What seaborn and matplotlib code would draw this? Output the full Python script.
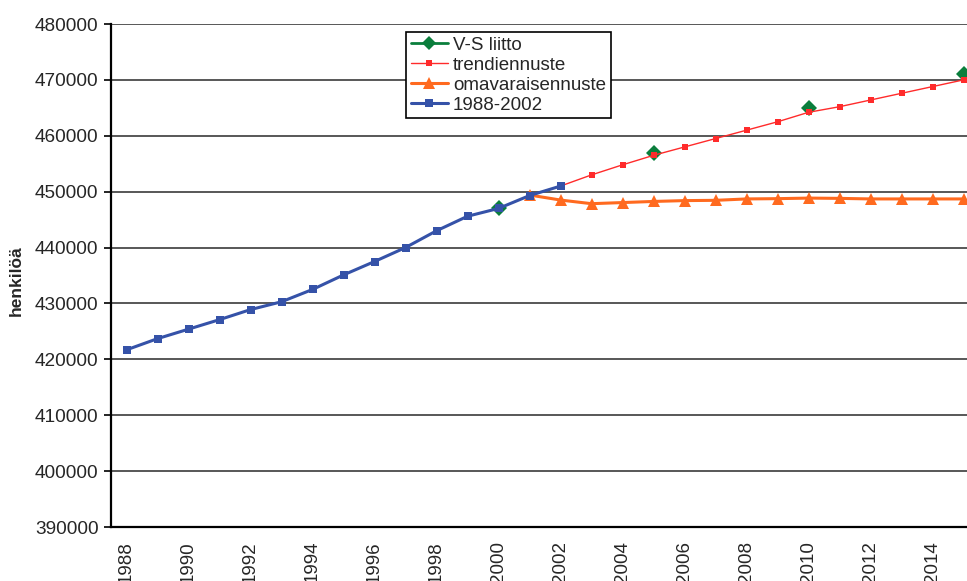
import numpy as np
import pandas as pd
import matplotlib
matplotlib.use("Agg")
import matplotlib.pyplot as plt
from matplotlib.lines import Line2D
import seaborn as sns

sns.set_style("white")
plt.rcParams['font.family'] = ['Liberation Sans', 'DejaVu Sans']

################################################
# Data
################################################
years_hist = list(range(1988, 2003))
hist_vals = [421700, 423700, 425400, 427100, 428900, 430300, 432500, 435100,
             437500, 440000, 443000, 445600, 447000, 449300, 451000]

years_trend = list(range(2001, 2016))
trend_vals = [449300, 451000, 453000, 454800, 456500, 458000, 459500, 461000,
              462500, 464200, 465200, 466400, 467600, 468800, 470000]

years_own = list(range(2001, 2016))
own_vals = [449400, 448500, 447850, 448050, 448250, 448400, 448450, 448700,
            448750, 448850, 448800, 448700, 448700, 448700, 448700]

years_vs = [2000, 2005, 2010, 2015]
vs_vals = [447000, 457000, 465000, 471000]

GREEN = '#0A7E3C'
RED = '#FF2B2B'
ORANGE = '#FF6A1F'
BLUE = '#3552A8'

################################################
# Plot
################################################
fig = plt.figure(figsize=(9.67, 5.81), dpi=100)
ax = fig.add_axes([111/967, 54/581, 868/967, 503/581])

sns.lineplot(x=years_vs, y=vs_vals, ax=ax, color=GREEN, linestyle='none',
             marker='D', markersize=8, markeredgewidth=0, zorder=3)
sns.lineplot(x=years_trend, y=trend_vals, ax=ax, color=RED, linewidth=1,
             marker='s', markersize=5, markeredgewidth=0, zorder=4)
sns.lineplot(x=years_own, y=own_vals, ax=ax, color=ORANGE, linewidth=2.2,
             marker='^', markersize=8, markeredgewidth=0, zorder=4)
sns.lineplot(x=years_hist, y=hist_vals, ax=ax, color=BLUE, linewidth=2.2,
             marker='s', markersize=6, markeredgewidth=0, zorder=5)

ax.set_xlim(1987.5, 2015.5)
ax.set_ylim(390000, 480000)
ax.set_yticks(np.arange(390000, 480001, 10000))
ax.set_yticklabels([str(v) for v in range(390000, 480001, 10000)])
ax.yaxis.grid(True, color='#4a4a4a', linewidth=1.3)
ax.set_axisbelow(True)

ax.set_xticks(list(range(1988, 2016, 2)))
ax.set_xticklabels([str(y) for y in range(1988, 2016, 2)], rotation=90)
ax.set_xticks(np.arange(1987.5, 2016, 1), minor=True)
ax.tick_params(axis='x', which='major', length=0, pad=10, labelsize=13.5)
ax.tick_params(axis='x', which='minor', length=5, width=1.2, color='black', direction='out')
ax.tick_params(axis='y', length=5, width=1.2, color='black', direction='out', pad=4,
               labelsize=13.7, left=True)

for side in ['top', 'right']:
    ax.spines[side].set_visible(False)
for side in ['left', 'bottom']:
    ax.spines[side].set_color('black')
    ax.spines[side].set_linewidth(1.6)

ax.set_ylabel("henkilöä", fontsize=12.5, fontweight='bold')
ax.yaxis.set_label_coords(-0.100, 0.49)

handles = [
    Line2D([], [], color=GREEN, linewidth=2, marker='D', markersize=7, markeredgewidth=0),
    Line2D([], [], color=RED, linewidth=1, marker='s', markersize=5, markeredgewidth=0),
    Line2D([], [], color=ORANGE, linewidth=2.2, marker='^', markersize=8, markeredgewidth=0),
    Line2D([], [], color=BLUE, linewidth=2.2, marker='s', markersize=6, markeredgewidth=0),
]
labels = ["V-S liitto", "trendiennuste", "omavaraisennuste", "1988-2002"]
leg = ax.legend(handles, labels, loc='upper left', bbox_to_anchor=(406/967, 1 - 32/581),
                bbox_transform=fig.transFigure, fontsize=13.5, frameon=True, fancybox=False,
                edgecolor='black', framealpha=1, handlelength=2.0, handletextpad=0.25,
                borderpad=0.25, labelspacing=0.15, borderaxespad=0)
leg.get_frame().set_linewidth(1.2)

fig.savefig("out.png", dpi=100)
